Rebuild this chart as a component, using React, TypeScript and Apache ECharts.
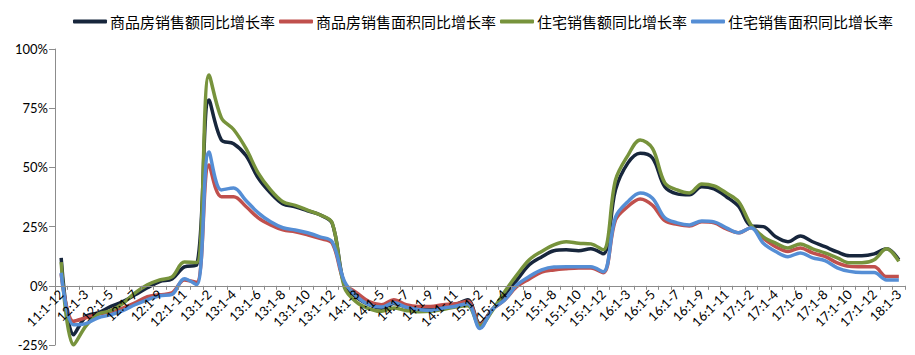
import React, { useEffect, useRef } from "react";
import * as echarts from "echarts";

const categories = [
  "11:1-12",
  "12:1-2", "12:1-3", "12:1-4", "12:1-5", "12:1-6", "12:1-7", "12:1-8", "12:1-9", "12:1-10", "12:1-11", "12:1-12",
  "13:1-2", "13:1-3", "13:1-4", "13:1-5", "13:1-6", "13:1-7", "13:1-8", "13:1-9", "13:1-10", "13:1-11", "13:1-12",
  "14:1-2", "14:1-3", "14:1-4", "14:1-5", "14:1-6", "14:1-7", "14:1-8", "14:1-9", "14:1-10", "14:1-11", "14:1-12",
  "15:1-2", "15:1-3", "15:1-4", "15:1-5", "15:1-6", "15:1-7", "15:1-8", "15:1-9", "15:1-10", "15:1-11", "15:1-12",
  "16:1-2", "16:1-3", "16:1-4", "16:1-5", "16:1-6", "16:1-7", "16:1-8", "16:1-9", "16:1-10", "16:1-11", "16:1-12",
  "17:1-2", "17:1-3", "17:1-4", "17:1-5", "17:1-6", "17:1-7", "17:1-8", "17:1-9", "17:1-10", "17:1-11", "17:1-12",
  "18:1-2", "18:1-3",
];

const seriesNames = ["商品房销售额同比增长率", "商品房销售面积同比增长率", "住宅销售额同比增长率", "住宅销售面积同比增长率"];

const salesValue = [
  11.8, -20.7, -13, -11.4, -8.8, -6.7, -3.8, -0.8, 1.8, 2.9, 8, 8.8,
  78.5, 61.6, 60, 55, 45.5, 39.2, 34.6, 33.4, 31.7, 30, 26.4,
  0.3, -5, -8, -9.5, -7.5, -9, -10, -10, -9, -8, -5.9,
  -16, -10, -3.8, 2.5, 8.9, 12.2, 14.8, 15.2, 14.8, 15.6, 13.5,
  40.5, 51.8, 56, 54, 41.8, 38.8, 38.4, 41.8, 40.9, 37.6, 33.5,
  25.3, 25, 20.7, 18.6, 21, 18.6, 16.5, 14.3, 12.7, 12.7, 13.5,
  15.6, 11,
];

const salesArea = [
  5, -15, -13.5, -12, -11, -9.4, -7.2, -4.6, -3.8, -3, 2.5, 1.5,
  51, 37.6, 37.6, 33.5, 28.7, 25.7, 23.6, 22.8, 21.5, 20, 18,
  1.2, -3, -6.7, -8, -5.9, -8, -8.7, -8.7, -8, -7.6, -6.5,
  -16.5, -10, -6, -0.3, 2.9, 5.8, 6.7, 7.2, 7.5, 7.5, 5.5,
  27.8, 33.5, 36.7, 34, 27.5, 26, 25.3, 27, 26.6, 24, 22.4,
  24.5, 20, 16.5, 14.5, 16, 13.9, 12.4, 9.7, 8.2, 8, 8,
  3.9, 3.9,
];

const resValue = [
  10, -25, -17, -12, -10.5, -7.5, -3, 0.4, 2.5, 3.8, 10, 9.8,
  89, 71, 66, 58, 47.6, 40.5, 35.5, 34, 32, 30, 26.6,
  -0.8, -7, -9.7, -10.8, -9.4, -10.4, -11, -10.8, -10, -9, -8.4,
  -17, -10.5, -2.5, 4.6, 11, 14.5, 17.3, 18.6, 18, 17.7, 15.2,
  44.7, 55, 61.6, 58, 43.5, 40.5, 39.2, 43, 42.2, 39.2, 35.5,
  25.7, 20.7, 18, 16, 17.7, 15.6, 13.9, 11.8, 9.7, 9.7, 11,
  15.6, 10.3,
];

const resArea = [
  5.5, -16.5, -16, -13.5, -12.3, -10.5, -8, -5.9, -4.2, -3.6, 3, 0.5,
  56.5, 40.5, 41.3, 36, 30.8, 27, 24.5, 23.6, 22.4, 20.7, 18.6,
  1.8, -4.5, -8, -9, -7.2, -9, -10, -10.4, -9.4, -8.6, -7.6,
  -18, -10, -6, 0.4, 3.9, 6.7, 7.9, 8, 8, 8, 5.9,
  29, 35.5, 39.2, 37, 28.7, 26.6, 25.7, 27.4, 27, 24.5, 22.4,
  24.5, 18, 14.5, 12.3, 13.9, 11.8, 10.6, 7.6, 6.1, 5.6, 5.6,
  2.5, 2.5,
];

const colors = ["#17263c", "#c0504d", "#77933c", "#558ed5"];
const seriesData = [salesValue, salesArea, resValue, resArea];

const Y_MIN = -25;
const Y_MAX = 100;
const GRID_TOP = 49;
const GRID_BOTTOM = 10;
const CHART_H = 355;

export default function App() {
  const ref = useRef<HTMLDivElement>(null);
  useEffect(() => {
    if (!ref.current) return;
    const chart = echarts.init(ref.current, undefined, { renderer: "svg" });
    const plotH = CHART_H - GRID_TOP - GRID_BOTTOM;
    const zeroOffset = (plotH * (0 - Y_MIN)) / (Y_MAX - Y_MIN);
    chart.setOption({
      animation: false,
      backgroundColor: "#ffffff",
      color: colors,
      textStyle: { fontFamily: "Lato, 'Noto Sans CJK SC', sans-serif" },
      legend: {
        top: 9,
        left: 68,
        icon: "roundRect",
        itemWidth: 34,
        itemHeight: 4,
        itemGap: 4,
        textStyle: { fontSize: 15, color: "#000", fontFamily: "'Noto Sans CJK SC', sans-serif", padding: [0, 0, 0, -2] },
        data: seriesNames,
      },
      grid: { left: 55, right: 10, top: GRID_TOP, bottom: GRID_BOTTOM, containLabel: false, outerBoundsMode: "none" },
      xAxis: {
        type: "category",
        data: categories,
        boundaryGap: true,
        position: "bottom",
        offset: -zeroOffset,
        z: 10,
        axisLine: { onZero: false, lineStyle: { color: "#8c8c8c", width: 1 } },
        axisTick: { show: true, interval: 0, length: 4, lineStyle: { color: "#8c8c8c" } },
        axisLabel: { interval: 1, rotate: 45, fontSize: 13, color: "#000", margin: 6 },
        splitLine: { show: false },
      },
      yAxis: {
        type: "value",
        min: Y_MIN,
        max: Y_MAX,
        interval: 25,
        axisLine: { show: true, lineStyle: { color: "#8c8c8c", width: 1 } },
        axisTick: { show: true, length: 6, lineStyle: { color: "#8c8c8c" } },
        axisLabel: { formatter: "{value}%", fontSize: 13, color: "#000", margin: 7 },
        splitLine: { show: false },
      },
      series: seriesNames.map((name, i) => ({
        name,
        type: "line",
        data: seriesData[i],
        smooth: 0.35,
        symbol: "none",
        lineStyle: { width: 3.5, color: colors[i] },
        itemStyle: { color: colors[i] },
      })),
    });
    return () => chart.dispose();
  }, []);
  return (
    <div
      ref={ref}
      style={{ position: "fixed", left: 0, top: 0, width: 915, height: 355 }}
    />
  );
}
